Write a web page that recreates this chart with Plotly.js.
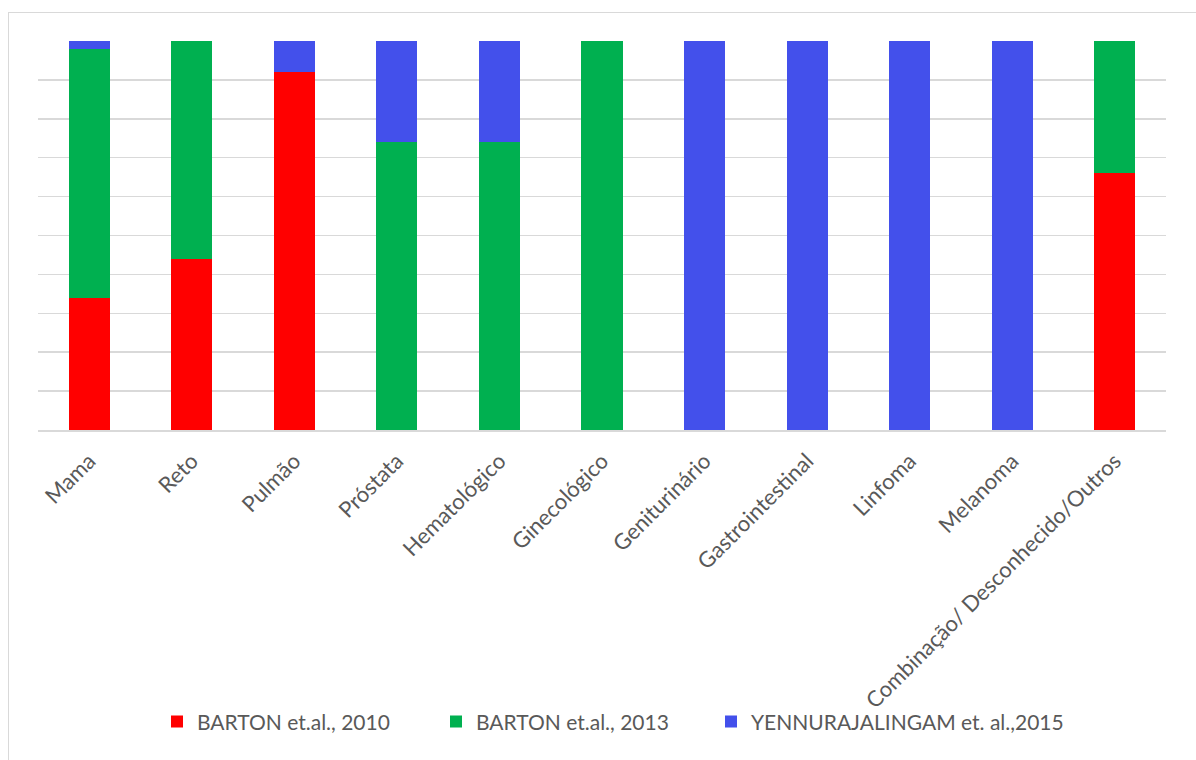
<!DOCTYPE html>
<html>
<head>
<meta charset="utf-8">
<script src="https://cdn.plot.ly/plotly-3.0.1.min.js"></script>
<style>
html,body{margin:0;padding:0;background:#fff;}
#wrap{position:relative;width:1196px;height:760px;overflow:hidden;}
#chart{position:absolute;left:0;top:0;width:1196px;height:760px;}
#frame{position:absolute;left:8px;top:12px;width:1200px;height:760px;border-left:1.5px solid #d9d9d9;border-top:1.5px solid #d9d9d9;pointer-events:none;}
</style>
</head>
<body>
<div id="wrap"><div id="chart"></div><div id="frame"></div></div>
<script>
const categories = ["Mama","Reto","Pulmão","Próstata","Hematológico","Ginecológico","Geniturinário","Gastrointestinal","Linfoma","Melanoma","Combinação/ Desconhecido/Outros"];
const barton2010 = [34, 44, 92, 0, 0, 0, 0, 0, 0, 0, 66];
const barton2013 = [64, 56, 0, 74, 74, 100, 0, 0, 0, 0, 34];
const yennu2015 = [2, 0, 8, 26, 26, 0, 100, 100, 100, 100, 0];
const seriesNames = ["BARTON et.al., 2010", "BARTON et.al., 2013", "YENNURAJALINGAM et. al.,2015"];
const colors = ["#ff0000", "#00b050", "#4350eb"];

const font = "Lato, 'Open Sans', sans-serif";
const vals = [barton2010, barton2013, yennu2015];
const legendIds = ["legend", "legend2", "legend3"];
const traces = vals.map((v, i) => ({
  type: "bar",
  name: seriesNames[i],
  x: categories,
  y: v,
  legend: legendIds[i],
  marker: {color: colors[i], line: {width: 0}},
  hoverinfo: "x+y+name"
}));

const plotL = 38, plotW = 1196 - 38 - 30;
const legendPx = [157, 436, 711];
function legendCfg(px) {
  return {
    orientation: "h",
    x: (px - plotL) / plotW, xanchor: "left",
    y: -0.75, yanchor: "middle",
    font: {family: font, size: 21, color: "#595959"},
    bgcolor: "rgba(0,0,0,0)",
    itemwidth: 30
  };
}

const layout = {
  width: 1196, height: 760,
  margin: {l: 38, r: 30, t: 41, b: 330},
  barmode: "stack",
  bargap: 0.6,
  paper_bgcolor: "#ffffff",
  plot_bgcolor: "#ffffff",
  showlegend: true,
  legend: legendCfg(legendPx[0]),
  legend2: legendCfg(legendPx[1]),
  legend3: legendCfg(legendPx[2]),
  xaxis: {
    type: "category",
    tickangle: -45,
    automargin: false,
    ticklabelstandoff: 8,
    tickfont: {family: font, size: 22, color: "#595959"},
    showline: true, linecolor: "#d9d9d9", linewidth: 1.5,
    ticks: "", showgrid: false
  },
  yaxis: {
    range: [0, 100],
    dtick: 10,
    showticklabels: false,
    automargin: false,
    showgrid: true, gridcolor: "#d9d9d9", gridwidth: 1.5,
    zeroline: false, ticks: "", fixedrange: true
  }
};
Plotly.newPlot("chart", traces, layout, {displayModeBar: false, staticPlot: true});
</script>
</body>
</html>
